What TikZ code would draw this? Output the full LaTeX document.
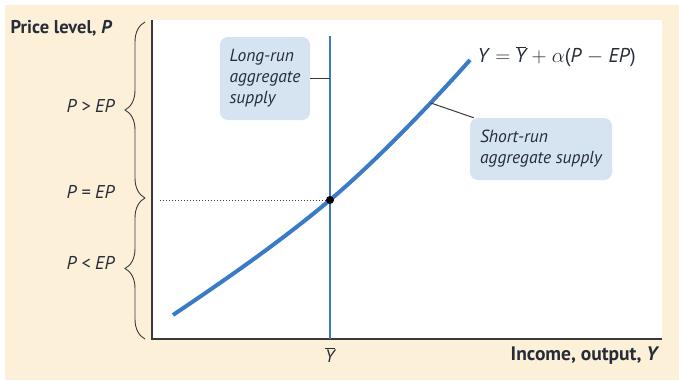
\documentclass[tikz,border=0pt]{standalone}
\usepackage{fontspec}
\setmainfont{PT Sans}
\usetikzlibrary{positioning, decorations.pathreplacing}
\definecolor{ccream}{HTML}{FDF0D9}
\definecolor{cink}{HTML}{262C38}
\definecolor{cblue}{HTML}{3B7AC4}
\definecolor{cbox}{HTML}{D6E4F2}
\definecolor{caxis}{HTML}{3A3A3A}
\newcommand{\ybar}{\ensuremath{\overline{\mbox{\itshape Y}}}}

\begin{document}
\begin{tikzpicture}[
  x=1pt, y=-1pt,
  font=\fontsize{18}{21}\selectfont,
  axis/.style={draw=caxis, line width=1.4pt},
  curve/.style={draw=cblue, line width=4pt},
  lras/.style={draw=cblue, line width=2.2pt},
  lbl/.style={text=cink, font=\fontsize{18.5}{21}\selectfont\bfseries},
  rangelbl/.style={text=cink, font=\fontsize{18.5}{21}\selectfont\itshape, anchor=east},
  tag/.style={fill=cbox, rounded corners=8pt, text=cink, align=left,
              font=\fontsize{17.5}{21}\selectfont\itshape, inner xsep=6pt},
  pointer/.style={draw=caxis, line width=1pt},
  brace/.style={draw=caxis, line width=0.9pt,
                decorate, decoration={brace, amplitude=20pt}},
  dot/.style={circle, fill=black, inner sep=0pt, minimum size=8pt}
]
\useasboundingbox (0,0) rectangle (679,380);
\fill[ccream] (5,5) rectangle (679,380);
\fill[white] (152,20) rectangle (662,339);

% axes
\coordinate (ytop) at (152,20);
\coordinate (O) at (152,339);
\coordinate (xend) at (662,339);
\draw[axis] (ytop) -- (O) -- (xend);
\node[lbl, anchor=west] (ylab) at (7,28) {Price level, \textit{P}};
\node[lbl, anchor=east, font=\fontsize{19.5}{21}\selectfont\bfseries] (xlab) at (663,356)
  {Income, output, \textit{Y}};

% long-run supply
\coordinate (lrtop) at (330,36);
\coordinate (lrbot) at (330,339);
\draw[lras] (lrtop) -- (lrbot);
\node[text=cink] (ybarlab) at (330,355) {\ybar};

% short-run supply
\draw[curve] (173,315) .. controls (225,280) and (280,242) .. (330,200)
  .. controls (375,162) and (430,105) .. (470,60)
  node[pos=0.7, coordinate] (srpt) {};
\node[dot] (eq) at (330,200) {};
\coordinate (dotend) at (160,200);
\draw[dotted, line width=1pt, caxis] (eq) -- (dotend);
\node[text=cink, anchor=west, font=\fontsize{20}{22}\selectfont] (eqn) at (474,57)
  {\textit{Y} $=$ \ybar\ $+$ $\alpha$(\textit{P} $-$ \textit{EP})};

% tags
\node[tag, minimum width=90pt, minimum height=83pt] (lrbox) at (265,78.5)
  {Long-run\\aggregate\\supply};
\node[tag, minimum width=142pt, minimum height=62pt] (srbox) at (541,149)
  {Short-run\\aggregate supply};
\draw[pointer] (lrbox.east) -- (lrbox.east -| lrtop);
\draw[pointer] (srpt) -- ([xshift=4pt]srbox.north west);

% braces
\coordinate (b1) at (145,339);
\coordinate (b2) at (145,198);
\coordinate (b3) at (145,22);
\draw[brace] (b1) -- (b2);
\draw[brace] (b2) -- (b3);
\node[rangelbl] (pgt) at (118,106) {P > EP};
\node[rangelbl] (peq) at (118,192) {P = EP};
\node[rangelbl] (plt) at (118,263) {P < EP};
\end{tikzpicture}
\end{document}
